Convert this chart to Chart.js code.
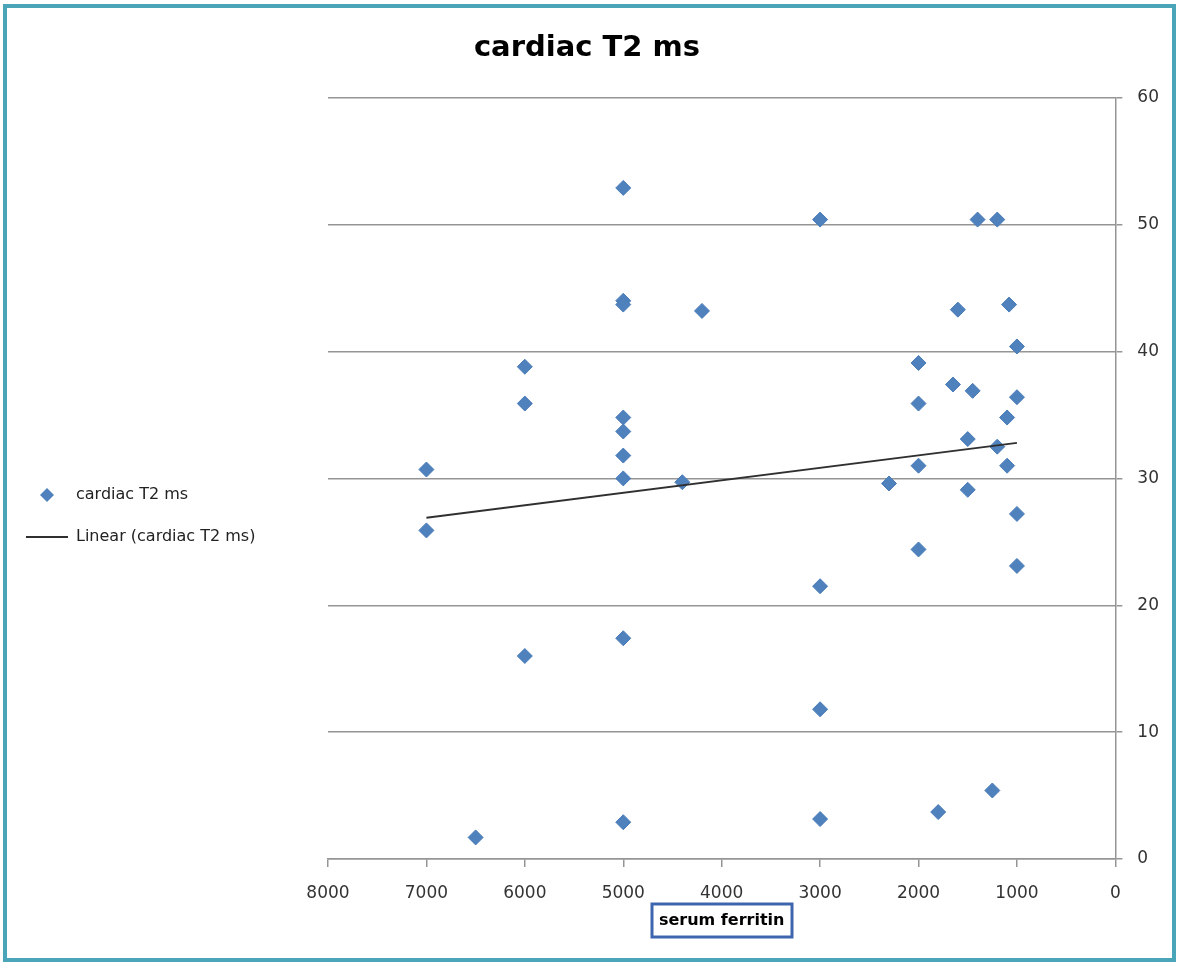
<!DOCTYPE html>
<html>
<head>
<meta charset="utf-8">
<script src="https://cdn.jsdelivr.net/npm/chart.js@4.4.1/dist/chart.umd.min.js"></script>
<style>
  html, body { margin: 0; padding: 0; background: #fff; }
  #wrap { position: relative; width: 1181px; height: 968px; }
  #frame { position: absolute; left: 3px; top: 4px; width: 1165px; height: 950px; border: 4px solid #4BA5B9; pointer-events: none; }
  canvas { position: absolute; left: 0; top: 0; }
</style>
</head>
<body>
<div id="wrap">
  <canvas id="c" width="1181" height="968"></canvas>
  <div id="frame"></div>
</div>
<script>
// Serum ferritin (x) vs cardiac T2 ms (y)
const ferritin = [7000, 7000, 6000, 6000, 6000, 6500, 5000, 5000, 5000, 5000, 5000, 5000, 5000, 5000, 5000,
  4200, 4400, 3000, 3000, 3000, 3000, 2300, 2000, 2000, 2000, 2000, 1800, 1400, 1200, 1600, 1080, 1000,
  1650, 1450, 1000, 1100, 1500, 1200, 1100, 1500, 1000, 1000, 1250];
const cardiacT2 = [30.7, 25.9, 38.8, 35.9, 16.0, 1.7, 52.9, 44.0, 43.7, 34.8, 33.7, 31.8, 30.0, 17.4, 2.9,
  43.2, 29.7, 50.4, 21.5, 11.8, 3.15, 29.6, 39.1, 35.9, 31.0, 24.4, 3.7, 50.4, 50.4, 43.3, 43.7, 40.4,
  37.4, 36.9, 36.4, 34.8, 33.1, 32.5, 31.0, 29.1, 27.2, 23.1, 5.4];
// Linear trendline end points
const trendX = [7000, 1000];
const trendY = [26.9, 32.8];
const seriesName = 'cardiac T2 ms';
const trendName = 'Linear (cardiac T2 ms)';
const xTitle = 'serum ferritin';
const chartTitle = 'cardiac T2 ms';

const FONT = 'DejaVu Sans';
const GRID = '#959595';
const BLUE = '#4F81BD';
const PLOT_LEFT = 328;

const scatterPts = ferritin.map((v, i) => ({ x: v, y: cardiacT2[i] }));
const trendPts = trendX.map((v, i) => ({ x: v, y: trendY[i] }));

// small diamond swatch for the legend
const diamond = document.createElement('canvas');
diamond.width = 16; diamond.height = 16;
(function () {
  const g = diamond.getContext('2d');
  g.fillStyle = BLUE;
  g.beginPath();
  g.moveTo(8, 1); g.lineTo(15, 8); g.lineTo(8, 15); g.lineTo(1, 8);
  g.closePath(); g.fill();
})();

const X_TITLE_PAD = { top: 9, bottom: 38 };
const X_TITLE_FONT = { family: FONT, size: 16, weight: 'bold' };

const boxPlugin = {
  id: 'xTitleBox',
  beforeLayout(chart) {
    const lg = chart.legend;
    if (lg && !lg._wrappedFit) {
      const orig = lg.fit;
      lg.fit = function () { orig.call(this); this.width = PLOT_LEFT; };
      lg._wrappedFit = true;
    }
  },
  afterDraw(chart) {
    const s = chart.scales.x;
    const ctx = chart.ctx;
    const lh = X_TITLE_FONT.size * 1.2;
    const cx = (s.left + s.right) / 2;
    const cy = s.bottom - X_TITLE_PAD.bottom - lh / 2;
    ctx.save();
    ctx.font = 'bold ' + X_TITLE_FONT.size + 'px "' + FONT + '"';
    const tw = ctx.measureText(xTitle).width;
    ctx.strokeStyle = '#3D66AE';
    ctx.lineWidth = 3;
    ctx.strokeRect(Math.round(cx - tw / 2 - 7), Math.round(cy - 16), Math.round(tw + 14), 33);
    ctx.restore();
  }
};

new Chart(document.getElementById('c'), {
  type: 'scatter',
  data: {
    datasets: [
      {
        label: seriesName,
        data: scatterPts,
        pointStyle: 'rectRot',
        pointRadius: 7.5,
        pointHoverRadius: 7.5,
        pointBackgroundColor: BLUE,
        pointBorderColor: '#4A7CB8',
        pointBorderWidth: 1,
        order: 1
      },
      {
        label: trendName,
        type: 'line',
        data: trendPts,
        showLine: true,
        borderColor: '#303030',
        borderWidth: 2,
        pointRadius: 0,
        pointStyle: 'line',
        pointBorderColor: '#303030',
        pointBorderWidth: 2,
        fill: false,
        order: 0
      }
    ]
  },
  options: {
    responsive: false,
    animation: false,
    layout: { padding: { left: 0, right: 7, top: 0, bottom: 0 } },
    plugins: {
      title: {
        display: true,
        text: chartTitle,
        color: '#000',
        font: { family: FONT, size: 29, weight: 'bold' },
        padding: { top: 31, bottom: 32 }
      },
      legend: {
        display: true,
        position: 'left',
        align: 'center',
        title: { display: true, text: '', font: { size: 10 }, padding: { top: 26, bottom: 26 } },
        labels: {
          usePointStyle: true,
          pointStyleWidth: 42,
          boxHeight: 9,
          padding: 26,
          color: '#222',
          font: { family: FONT, size: 16 },
          sort: (a, b) => a.datasetIndex - b.datasetIndex,
          generateLabels(chart) {
            const items = Chart.defaults.plugins.legend.labels.generateLabels(chart);
            items.forEach(it => { if (it.datasetIndex === 0) it.pointStyle = diamond; });
            return items;
          }
        }
      },
      tooltip: { enabled: false }
    },
    scales: {
      x: {
        type: 'linear',
        reverse: true,
        min: 0,
        max: 8000,
        ticks: { stepSize: 1000, color: '#333', font: { family: FONT, size: 17 }, padding: 16, maxRotation: 0,
                 callback: v => String(v) },
        grid: { drawOnChartArea: false, drawTicks: true, tickLength: 8, color: GRID, lineWidth: 1.5 },
        border: { display: true, color: GRID, width: 1.5 },
        title: { display: true, text: xTitle, color: '#000', font: X_TITLE_FONT, padding: X_TITLE_PAD },
        afterFit(s) { s.height = 109; }
      },
      y: {
        type: 'linear',
        position: 'right',
        min: 0,
        max: 60,
        ticks: { stepSize: 10, color: '#333', font: { family: FONT, size: 17 }, padding: 15,
                 callback: v => String(v) },
        grid: { drawTicks: true, tickLength: 7, color: GRID, lineWidth: 1.5 },
        border: { display: true, color: GRID, width: 1.5 }
      }
    }
  },
  plugins: [boxPlugin]
});
</script>
</body>
</html>
